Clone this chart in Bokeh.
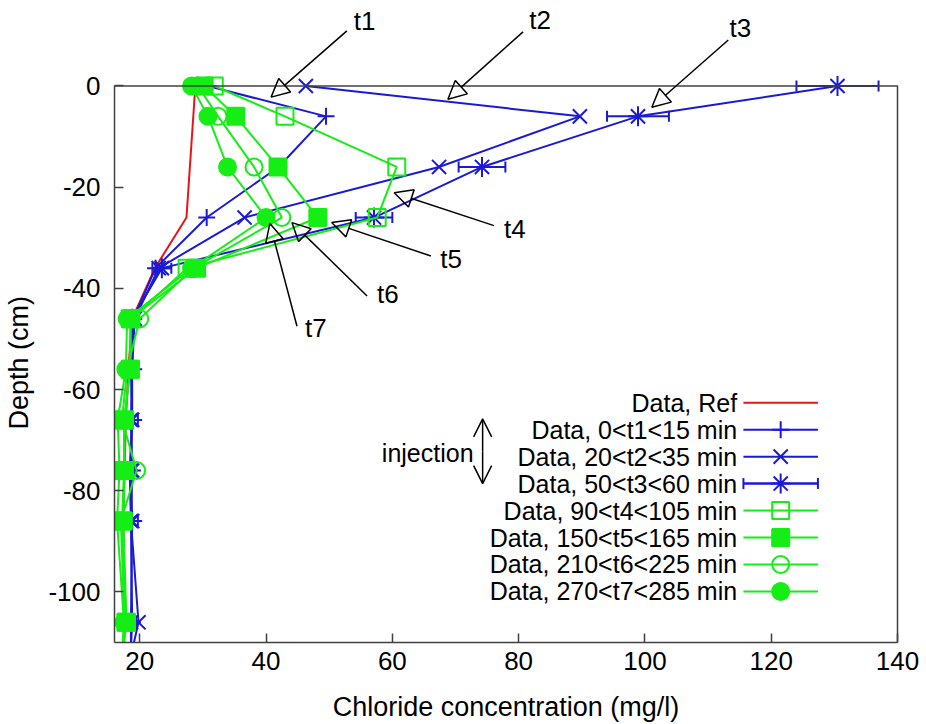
from bokeh.plotting import figure
from bokeh.models import (Range1d, Whisker, TeeHead, Arrow, NormalHead, OpenHead,
                          Label, ColumnDataSource, FixedTicker, LinearAxis, Span,
                          CustomJSTickFormatter)
from bokeh.embed import file_html
from bokeh.resources import INLINE

# ---------------- data ----------------
depth = [0, -6, -16, -26, -36, -46, -56, -66, -76, -86, -106, -116]

ref_depth = [0, -26, -36, -46, -56, -66, -76, -86, -106, -116]
ref_conc = [28.8, 27.4, 22.4, 18.8, 18.2, 17.8, 17.6, 17.4, 17.5, 17.4]

t1 = [30.8, 49.5, 42.0, 30.6, 22.5, 19.0, 18.6, 18.8, 18.4, 18.6, 18.8, 18.4]
t2 = [46.3, 89.7, 67.4, 36.6, 23.0, 19.2, 18.8, 18.6, 18.8, 18.6, 19.8, 18.0]
t3 = [130.5, 98.9, 74.2, 57.1, 23.5, 18.8, 18.8, 18.8, 18.6, 18.8, 18.6, 18.6]
t3_err = [6.5, 4.9, 3.7, 2.9, 1.5, 0.9, 0.8, 0.9, 0.8, 0.9, 0.8, 0.8]
t4 = [31.8, 43.0, 60.7, 57.6, 27.5, 18.6, 18.5, 17.6, 17.6, 17.4, 17.9, 17.0]
t5 = [30.2, 35.2, 41.9, 48.2, 29.0, 18.5, 18.5, 17.5, 17.5, 17.2, 17.8, 17.0]
t6 = [29.2, 32.4, 38.1, 42.5, 28.5, 20.0, 18.0, 17.2, 19.5, 17.0, 17.6, 17.0]
t7 = [28.2, 30.8, 33.9, 40.0, 28.2, 18.0, 17.8, 16.5, 16.8, 16.4, 17.5, 17.0]

legend_labels = ["Data, Ref", "Data, 0<t1<15 min", "Data, 20<t2<35 min",
                 "Data, 50<t3<60 min", "Data, 90<t4<105 min", "Data, 150<t5<165 min",
                 "Data, 210<t6<225 min", "Data, 270<t7<285 min"]

x_ticks = [20, 40, 60, 80, 100, 120, 140]
y_ticks = [0, -20, -40, -60, -80, -100]

# annotation labels: (text, label x, label y, arrow start x, y, arrow tip x, y)
time_labels = ["t1", "t2", "t3", "t4", "t5", "t6", "t7"]
lab_x = [55.6, 83.4, 115.1, 79.4, 69.3, 59.3, 47.9]
lab_y = [12.9, 13.1, 11.4, -28.2, -34.2, -41.2, -47.9]
arr_x0 = [52.8, 80.7, 113.2, 76.1, 66.1, 56.0, 44.9]
arr_y0 = [10.9, 10.7, 9.1, -27.6, -33.6, -41.5, -47.5]
arr_x1 = [40.8, 68.8, 101.1, 60.3, 50.4, 44.1, 40.6]
arr_y1 = [-2.2, -2.6, -4.2, -21.1, -27.0, -27.0, -27.2]

# ---------------- styles ----------------
RED = "#e8141a"
BLUE = "#1a1ad6"
GREEN = "#14ee14"
FRAME = "#404040"
FONT = "Liberation Sans"
FS = "25px"
FS_TICK = "26px"
FS_TITLE = "27px"

X_MIN, X_MAX = 16, 140
Y_MIN, Y_MAX = -110, 0
Y_TOP_ROOM = 16.9   # room above the box for the t1..t3 labels

p = figure(width=926, height=724, output_backend="svg", toolbar_location=None,
           x_range=Range1d(X_MIN, X_MAX), y_range=Range1d(Y_MIN, Y_MAX + Y_TOP_ROOM),
           min_border_left=114, min_border_right=29, min_border_top=0,
           min_border_bottom=82)
p.xgrid.visible = False
p.ygrid.visible = False
p.outline_line_color = None
p.background_fill_color = "white"
p.border_fill_color = "white"

fmt = CustomJSTickFormatter(code="return String(tick);")
for ax, ticks in ((p.xaxis[0], x_ticks), (p.yaxis[0], y_ticks)):
    ax.ticker = FixedTicker(ticks=ticks)
    ax.formatter = fmt
    ax.major_tick_in = 9
    ax.major_tick_out = 0
    ax.minor_tick_line_color = None
    ax.axis_line_color = FRAME
    ax.axis_line_width = 1.5
    ax.major_tick_line_color = FRAME
    ax.major_tick_line_width = 1.5
    ax.major_label_text_font = FONT
    ax.major_label_text_font_size = FS_TICK
    ax.major_label_text_color = "black"
    ax.axis_label_text_font = FONT
    ax.axis_label_text_font_size = FS_TITLE
    ax.axis_label_text_font_style = "normal"
    ax.axis_label_text_color = "black"
p.yaxis.bounds = (Y_MIN, Y_MAX)

p.xaxis.axis_label = "Chloride concentration (mg/l)"
# trailing no-break spaces centre the title on the box (the frame extends above it)
p.yaxis.axis_label = "Depth (cm)" + "\u00a0" * 11
p.xaxis.major_label_standoff = 9
p.yaxis.major_label_standoff = 14
p.xaxis.axis_label_standoff = 19
p.yaxis.axis_label_standoff = 11

# right and top edges of the box
right_ax = LinearAxis(ticker=FixedTicker(ticks=[]), bounds=(Y_MIN, Y_MAX),
                      axis_line_color=FRAME, axis_line_width=1.5,
                      minor_tick_line_color=None, major_tick_line_color=None,
                      major_label_text_font_size="0px")
p.add_layout(right_ax, "right")
p.add_layout(Span(location=Y_MAX, dimension="width", line_color=FRAME, line_width=1.5))

LW = 2
MS = 17
MSX = 20

# reference
p.line(ref_conc, ref_depth, line_color=RED, line_width=LW)

# t1 .. t3 (blue)
p.line(t1, depth, line_color=BLUE, line_width=LW)
p.scatter(t1, depth, marker="cross", size=MS, line_color=BLUE, line_width=LW)
p.line(t2, depth, line_color=BLUE, line_width=LW)
p.scatter(t2, depth, marker="x", size=MSX, line_color=BLUE, line_width=LW)

lo3 = [v - e for v, e in zip(t3, t3_err)]
hi3 = [v + e for v, e in zip(t3, t3_err)]
src3 = ColumnDataSource(dict(x=t3, y=depth, lo=lo3, hi=hi3))
p.add_layout(Whisker(source=src3, base="y", lower="lo", upper="hi", dimension="width",
                     line_color=BLUE, line_width=LW,
                     lower_head=TeeHead(size=11, line_color=BLUE, line_width=LW),
                     upper_head=TeeHead(size=11, line_color=BLUE, line_width=LW)))
p.line("x", "y", source=src3, line_color=BLUE, line_width=LW)
p.scatter("x", "y", source=src3, marker="asterisk", size=MSX, line_color=BLUE, line_width=LW)

# t4 .. t7 (green)
p.line(t4, depth, line_color=GREEN, line_width=LW)
p.scatter(t4, depth, marker="square", size=MS, line_color=GREEN, fill_color=None, line_width=LW)
p.line(t5, depth, line_color=GREEN, line_width=LW)
p.scatter(t5, depth, marker="square", size=MS, line_color=GREEN, fill_color=GREEN, line_width=LW)
p.line(t6, depth, line_color=GREEN, line_width=LW)
p.scatter(t6, depth, marker="circle", size=MS, line_color=GREEN, fill_color=None, line_width=LW)
p.line(t7, depth, line_color=GREEN, line_width=LW)
p.scatter(t7, depth, marker="circle", size=MS, line_color=GREEN, fill_color=GREEN, line_width=LW)

# ---------------- time annotations ----------------
for t, lx, ly, x0, y0, x1, y1 in zip(time_labels, lab_x, lab_y, arr_x0, arr_y0, arr_x1, arr_y1):
    p.add_layout(Arrow(x_start=x0, y_start=y0, x_end=x1, y_end=y1, line_color="black",
                       line_width=1.5,
                       end=NormalHead(size=18, fill_color=None, line_color="black",
                                      line_width=1.5)))
    p.add_layout(Label(x=lx, y=ly, text=t, text_font=FONT, text_font_size=FS_TICK,
                       text_align="center", text_baseline="middle", text_color="black"))

# ---------------- legend (gnuplot style, key at right) ----------------
LEG_TEXT_X = 114.6
LEG_X0 = 115.6
LEG_X1 = 127.4
LEG_MX = 121.5
LEG_Y0 = -62.6
LEG_DY = 5.33
rows = [LEG_Y0 - i * LEG_DY for i in range(len(legend_labels))]
leg_colors = [RED, BLUE, BLUE, BLUE, GREEN, GREEN, GREEN, GREEN]
leg_markers = [None, "cross", "x", "asterisk", "square", "square", "circle", "circle"]
leg_sizes = [MS, MS, MSX, MSX, MS, MS, MS, MS]
leg_fill = [None, None, None, None, None, GREEN, None, GREEN]

for lab, ry, col, mk, sz, fc in zip(legend_labels, rows, leg_colors, leg_markers,
                                    leg_sizes, leg_fill):
    p.add_layout(Label(x=LEG_TEXT_X, y=ry, text=lab, text_font=FONT, text_font_size=FS,
                       text_align="right", text_baseline="middle", text_color="black"))
    p.line([LEG_X0, LEG_X1], [ry, ry], line_color=col, line_width=LW)
    if mk is not None:
        p.scatter([LEG_MX], [ry], marker=mk, size=sz, line_color=col, fill_color=fc,
                  line_width=LW)

leg_src3 = ColumnDataSource(dict(y=[rows[3]], lo=[LEG_X0], hi=[LEG_X1]))
p.add_layout(Whisker(source=leg_src3, base="y", lower="lo", upper="hi", dimension="width",
                     line_color=BLUE, line_width=LW,
                     lower_head=TeeHead(size=11, line_color=BLUE, line_width=LW),
                     upper_head=TeeHead(size=11, line_color=BLUE, line_width=LW)))

# injection marker
INJ_X = 74.3
INJ_MID = -72.2
p.add_layout(Arrow(x_start=INJ_X, y_start=INJ_MID, x_end=INJ_X, y_end=-65.8,
                   line_color="black", line_width=1.5,
                   end=OpenHead(size=18, line_color="black", line_width=1.5)))
p.add_layout(Arrow(x_start=INJ_X, y_start=INJ_MID, x_end=INJ_X, y_end=-78.6,
                   line_color="black", line_width=1.5,
                   end=OpenHead(size=18, line_color="black", line_width=1.5)))
p.add_layout(Label(x=65.6, y=-72.6, text="injection", text_font=FONT, text_font_size=FS,
                   text_align="center", text_baseline="middle", text_color="black"))

open("out.html", "w").write(file_html(p, INLINE))
